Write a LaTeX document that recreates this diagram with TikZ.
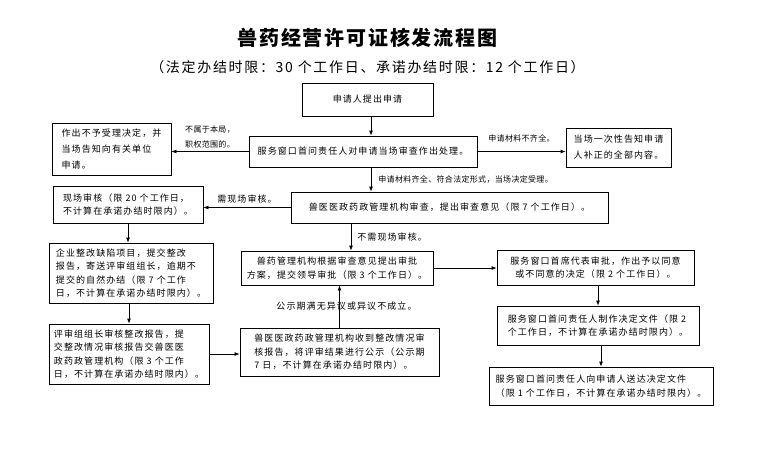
\documentclass[tikz,border=0pt]{standalone}
\usepackage{fontspec}
\setmainfont{Noto Sans CJK SC}[LetterSpace=12]
\newfontfamily\titlefont{Noto Sans CJK SC}[LetterSpace=9]
\newfontfamily\notefont{Noto Sans CJK SC}[LetterSpace=4]
\usetikzlibrary{arrows.meta}
\begin{document}
\begin{tikzpicture}[x=1pt,y=-1pt,
  box/.style={draw,line width=0.8pt,inner sep=1pt,font=\fontsize{9}{13.5}\selectfont},
  arr/.style={line width=0.8pt,-{Latex[length=5pt,width=4pt]}},
  lbl/.style={font=\fontsize{9}{13}\selectfont,inner sep=1pt},
  lblsmall/.style={font=\notefont\fontsize{8}{15}\selectfont,inner sep=1pt}]
\useasboundingbox (0,0) rectangle (758,448);
\node[font=\titlefont\bfseries\fontsize{20}{24}\selectfont] (title) at (367.5,38) {兽药经营许可证核发流程图};
\node[font=\fontsize{14}{16}\selectfont] (subtitle) at (367.5,67) {（法定办结时限：30 个工作日、承诺办结时限：12 个工作日）};
\coordinate (spine) at (371,0);
\coordinate (fork) at (351,0);
\node[box,minimum width=131pt,minimum height=33pt] (apply) at (367.5,99.5) {申请人提出申请};
\node[box,minimum width=228pt,minimum height=31pt] (window) at (363,151.5) {服务窗口首问责任人对申请当场审查作出处理。};
\node[box,minimum width=119pt,minimum height=52pt,align=left,font=\fontsize{9}{16}\selectfont] (reject) at (111.5,149) {作出不予受理决定，并\\当场告知向有关单位\\申请。};
\node[box,minimum width=105pt,minimum height=39pt,align=left,font=\fontsize{9}{16}\selectfont] (supply) at (618.5,147.5) {当场一次性告知申请\\人补正的全部内容。};
\node[box,minimum width=317pt,minimum height=31pt] (review) at (449.5,207.5) {兽医医政药政管理机构审查，提出审查意见（限 7 个工作日）。};
\node[box,minimum width=150pt,minimum height=37pt,align=left] (site) at (128,204.5) {现场审核（限 20 个工作日，\\不计算在承诺办结时限内）。};
\node[box,minimum width=164pt,minimum height=60pt,align=left] (rectify) at (131,273) {企业整改缺陷项目，提交整改\\报告，寄送评审组组长，逾期不\\提交的自然办结（限 7 个工作\\日，不计算在承诺办结时限内）。};
\node[box,minimum width=160pt,minimum height=60pt,align=left] (check) at (129,354) {评审组组长审核整改报告，提\\交整改情况审核报告交兽医医\\政药政管理机构（限 3 个工作\\日，不计算在承诺办结时限内）。};
\node[box,minimum width=199pt,minimum height=48pt,align=left] (publish) at (339.5,352) {兽医医政药政管理机构收到整改情况审\\核报告，将评审结果进行公示（公示期\\7 日，不计算在承诺办结时限内）。};
\node[box,minimum width=192pt,minimum height=34pt,align=center] (plan) at (337,268) {兽药管理机构根据审查意见提出审批\\方案，提交领导审批（限 3 个工作日）。};
\node[box,minimum width=197pt,minimum height=35pt,align=center] (approve) at (595.5,267.5) {服务窗口首席代表审批，作出予以同意\\或不同意的决定（限 2 个工作日）。};
\node[box,minimum width=202pt,minimum height=39pt,align=left] (document) at (598,325.5) {服务窗口首问责任人制作决定文件（限 2\\个工作日，不计算在承诺办结时限内）。};
\node[box,minimum width=224pt,minimum height=38pt,align=left] (deliver) at (601,386) {服务窗口首问责任人向申请人送达决定文件\\（限 1 个工作日，不计算在承诺办结时限内）。};
\path[draw,arr] (apply.south -| spine) -- (window.north -| spine);
\path[draw,arr] (window.west) -- node[lblsmall,above=2pt,align=left] {不属于本局，\\职权范围的。} (window.west -| reject.east);
\path[draw,arr] (window.east) -- node[lblsmall,above=8pt] {申请材料不齐全。} (window.east -| supply.west);
\path[draw,arr] (window.south -| spine) -- node[lblsmall,right=6pt] {申请材料齐全、符合法定形式，当场决定受理。} (review.north -| spine);
\path[draw,arr] (review.west) -- node[lbl,above=3pt] {需现场审核。} (review.west -| site.east);
\path[draw,arr] (site.south) -- (site.south |- rectify.north);
\path[draw,arr] (check |- rectify.south) -- (check.north);
\path[draw,arr] (check.east) -- (check.east -| publish.west);
\path[draw,arr] (publish.north) -- node[lbl,xshift=7pt] {公示期满无异议或异议不成立。} (publish.north |- plan.south);
\path[draw,arr] (review.south -| fork) -- node[lbl,right=5pt] {不需现场审核。} (plan.north -| fork);
\path[draw,arr] (plan.east) -- (plan.east -| approve.west);
\path[draw,arr] (approve.south -| document) -- (document.north);
\path[draw,arr] (document.south -| deliver) -- (deliver.north);
\end{tikzpicture}
\end{document}
